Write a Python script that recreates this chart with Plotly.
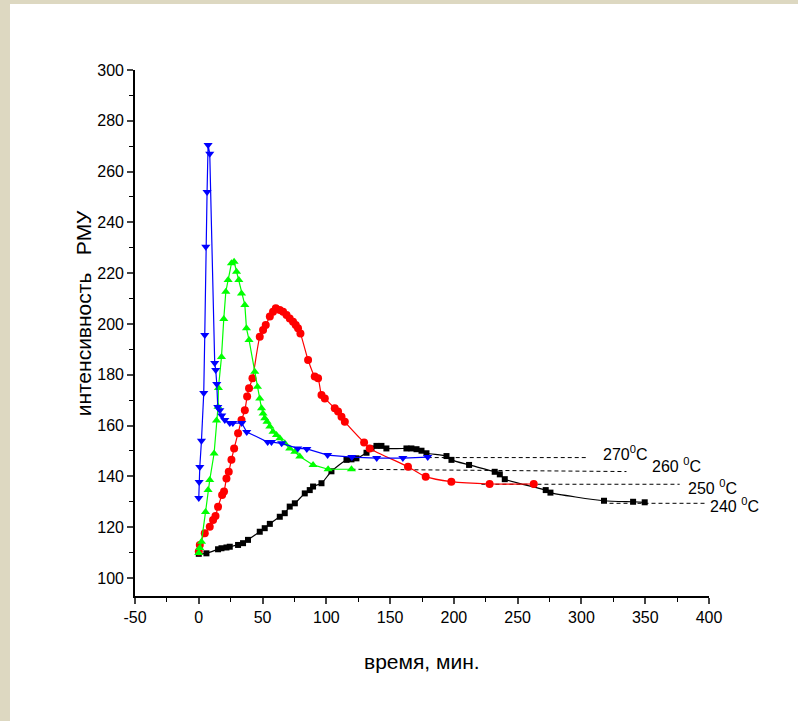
import plotly.graph_objects as go

# 270 °C (blue, triangle-down)
x270 = [0, 0.3, 0.8, 2.1, 3.9, 4.7, 5.5, 6.5, 7.3, 8.6, 12.5, 13.3, 14.1, 14.9, 16.5, 18, 20.4, 24.3, 26.7,
        33.7, 37.6, 54, 57, 65, 77.6, 84.7, 101, 120, 139.5, 160, 179.5]
y270 = [131.5, 137.8, 143.7, 154, 172.8, 195.7, 230.4, 252, 270.5, 267, 184.6, 181.9, 176.4, 167.3, 166, 164,
        162.2, 161, 161, 161, 157.5, 153.5, 153.5, 153, 151, 150.8, 148.4, 147.6, 147.2, 147.2, 147.6]

# 260 °C (green, triangle-up)
x260 = [0, 0.8, 2.1, 5.3, 7.3, 8.6, 12, 13.9, 15.1, 15.4, 17.8, 19.6, 21.2, 23, 25.6, 27.7, 29.6, 31.4, 33.5,
        36.1, 37.4, 39.4, 43.9, 46, 47.8, 49.2, 50.4, 51.7, 53.5, 55.7, 58.2, 60.9, 63.5, 67.4, 71.3, 75.3,
        79.2, 89.6, 101.4, 119.7]
y260 = [109.8, 111.8, 114.3, 126, 134.6, 138.6, 149, 162, 167.4, 174.8, 187, 202, 212.7, 217.3, 223.9, 224.5,
        220.6, 217.3, 212, 207.5, 198.3, 193.7, 181.2, 175.3, 170.7, 166.8, 164.8, 162.9, 161.5, 159.6, 157.6,
        156.3, 155, 153, 151, 149.7, 147.8, 144.5, 142.8, 142.8]

# 250 °C (red, circles)
x250 = [0, 0.8, 4.7, 8.6, 11.2, 13.1, 15.1, 18.3, 19.8, 21.7, 23.5, 25.6, 27.7, 30.8, 33.5, 36.1, 37.9, 39.4,
        42.1, 47.8, 50.4, 52.5, 55.7, 58.2, 60.4, 63.5, 66.1, 68.8, 71.3, 73.9, 76, 77.8, 79.7, 85.7, 90.9,
        93.5, 96.2, 98.8, 106.6, 109.2, 111.9, 114.5, 129.6, 134, 164, 177.9, 198, 228, 262.6]
y250 = [110.4, 113, 117.6, 120.2, 122.8, 124.4, 128, 132.7, 134, 139.2, 141.8, 146.5, 151, 157, 162.2, 166,
        171.4, 174.7, 178.6, 195, 197.6, 199.6, 202.9, 204.8, 206.2, 205.5, 204.8, 203.5, 202.2, 200.9, 199.6,
        198.3, 196.3, 185.8, 179.3, 178.6, 172, 170.7, 166.8, 165.5, 163.5, 161.5, 153.3, 151, 143.8, 139.9,
        137.9, 137, 137]

# 240 °C (black, squares)
x240 = [0, 6, 15.1, 17.8, 21.7, 24.3, 30.8, 34.7, 38.6, 47.8, 51.7, 55.7, 63.5, 67.4, 71.3, 75.3, 83.1, 87,
        89.6, 96.2, 104, 115.8, 119.7, 123.6, 131.5, 135.4, 139.3, 143.2, 147.1, 162.8, 166.7, 170.7, 174.6,
        178.5, 194.2, 198.1, 211.9, 232, 236, 239.9, 272, 275.7, 317.7, 340.5, 349.6]
y240 = [109.5, 109.7, 111.3, 111.7, 112, 112.3, 113, 113.7, 115, 118.2, 119.6, 121.3, 124.1, 125.5, 128.1,
        129.4, 133.3, 134.6, 136, 137.3, 142, 146.5, 146.7, 147.1, 149.3, 151, 152, 152, 151, 151, 151, 150.7,
        150.1, 149.1, 148, 146.5, 144.5, 141.8, 140.8, 138.9, 134.6, 133.6, 130.4, 130, 129.8]

# leader lines and labels
label_texts = ["270<sup>0</sup>C", "260 <sup>0</sup>C", "250 <sup>0</sup>C", "240 <sup>0</sup>C"]
lead_x = [[179.5, 305], [119.7, 335.3], [221.6, 377], [322, 396.7]]
lead_y = [[147.4, 147.4], [142.8, 141.9], [136.9, 136.9], [129.4, 129.4]]
label_x = [315.6, 353.6, 382.3, 399.4]
label_y = [149.1, 144.5, 135.9, 128.7]

x_ticks = [-50, 0, 50, 100, 150, 200, 250, 300, 350, 400]
x_ticktext = ["-50", "0", "50", "100", "150", "200", "250", "300", "350", "400"]
y_ticks = [100, 120, 140, 160, 180, 200, 220, 240, 260, 280, 300]
y_ticktext = ["100", "120", "140", "160", "180", "200", "220", "240", "260", "280", "300"]

FONT = "Liberation Sans, Arial, sans-serif"

fig = go.Figure()

for lx, ly in zip(lead_x, lead_y):
    fig.add_trace(go.Scatter(x=lx, y=ly, mode="lines", showlegend=False, hoverinfo="skip",
                             line=dict(color="black", width=1, dash="4px,3px")))

series = [
    (x240, y240, "black", "square", 6, "spline"),
    (x250, y250, "#ff0000", "circle", 8, "spline"),
    (x260, y260, "#00ff00", "triangle-up", 8, "linear"),
    (x270, y270, "#0000ff", "triangle-down", 8, "linear"),
]
for xs, ys, col, sym, sz, shp in series:
    ln = dict(color=col, width=1.2, shape=shp)
    if shp == "spline":
        ln["smoothing"] = 0.6
    fig.add_trace(go.Scatter(
        x=xs, y=ys, mode="lines+markers", showlegend=False, line=ln,
        marker=dict(color=col, symbol=sym, size=sz, line=dict(width=0)),
    ))

for t, lx, ly in zip(label_texts, label_x, label_y):
    fig.add_annotation(x=lx, y=ly, xref="x", yref="y", text=t, showarrow=False,
                       xanchor="left", yanchor="middle", font=dict(family=FONT, size=16, color="black"))

# axis titles
fig.add_annotation(x=0.5, y=-0.125, xref="paper", yref="paper", text="время, мин.", showarrow=False,
                   xanchor="center", yanchor="middle", font=dict(family=FONT, size=21, color="black"))
fig.add_annotation(x=-0.09, y=0.538, xref="paper", yref="paper", text="интенсивность   РМУ",
                   showarrow=False, textangle=-90, xanchor="center", yanchor="middle",
                   font=dict(family=FONT, size=21, color="black"))

# beige frame: paper is beige, a white panel covers all but the top and left bands
band = "#ddd8c1"
fig.add_shape(type="rect", xref="paper", yref="paper", x0=-0.2178, x1=1.2, y0=-0.3, y1=1.1255,
              fillcolor="white", line=dict(width=0), layer="below")

fig.update_layout(
    width=798, height=721,
    margin=dict(l=135, r=89, t=70, b=125),
    paper_bgcolor=band, plot_bgcolor="white",
    font=dict(family=FONT, size=16, color="black"),
    showlegend=False,
)
fig.update_xaxes(range=[-50, 400], tickvals=x_ticks, ticktext=x_ticktext, ticks="outside", ticklen=6,
                 tickwidth=1.5, showline=True, linecolor="black", linewidth=1.6, showgrid=False, zeroline=False,
                 minor=dict(dtick=25, tick0=-50, ticks="outside", ticklen=4, tickwidth=1.2, tickcolor="black"),
                 tickfont=dict(family=FONT, size=16))
fig.update_yaxes(range=[92.9, 300], tickvals=y_ticks, ticktext=y_ticktext, ticks="outside", ticklen=6,
                 tickwidth=1.5, showline=True, linecolor="black", linewidth=1.6, showgrid=False, zeroline=False,
                 minor=dict(dtick=10, tick0=100, ticks="outside", ticklen=4, tickwidth=1.2, tickcolor="black"),
                 tickfont=dict(family=FONT, size=16))

fig.write_html("out.html", config={"displayModeBar": False},
               post_script="document.body.style.margin='0';")
